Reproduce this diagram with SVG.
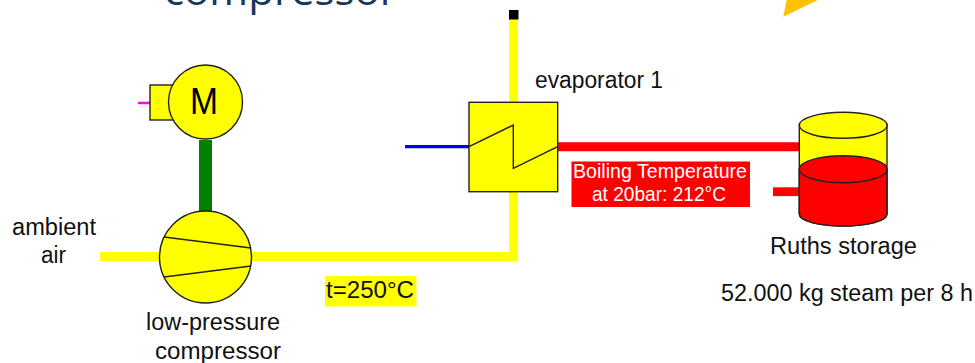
<svg xmlns="http://www.w3.org/2000/svg" width="975" height="363" viewBox="0 0 975 363">
<style>
text{font-family:"Liberation Sans",Arial,sans-serif;font-size:23px;fill:#111}
.eq{fill:#ff0;stroke:#222;stroke-width:1.4}
.ln{fill:none;stroke:#222;stroke-width:1.4}
.red{fill:#f00;stroke:#222;stroke-width:1.4}
</style>
<rect width="975" height="363" fill="#fff"/>
<text x="164" y="4.500" textLength="233" lengthAdjust="spacingAndGlyphs" style="font-family:'Open Sans',sans-serif;font-size:40px;font-weight:400;fill:#17375e">compressor</text>
<polygon points="783.300,16.700 817.700,0 786.700,0" fill="#ffc000"/>
<g id="connectors" fill="none">
<path d="M100 256.500H513.500V19" stroke="#ff0" stroke-width="8.800"/>
<rect x="509" y="10" width="9.500" height="9.500" fill="#000"/>
<path d="M205.500 140V212" stroke="#007f00" stroke-width="13"/>
<path d="M138 103H150" stroke="#f0e" stroke-width="2.500"/>
<path d="M405 146.700H469" stroke="#00f" stroke-width="3.200"/>
<path d="M558 146.800H800" stroke="#f00" stroke-width="9"/>
<path d="M773 191.700H800" stroke="#f00" stroke-width="8.800"/>
</g>
<g id="motor">
<rect class="eq" x="150" y="85" width="30" height="35"/>
<circle class="eq" cx="205.500" cy="102" r="37"/>
<text x="190" y="114" textLength="28" lengthAdjust="spacingAndGlyphs" style="font-size:36px;fill:#000">M</text>
</g>
<g id="compressor">
<circle class="eq" cx="205.500" cy="257" r="46"/>
<path class="ln" d="M164 237L251 248M164 277L251 266"/>
</g>
<g id="evaporator">
<rect class="eq" x="469" y="102.300" width="88.700" height="89.400"/>
<path class="ln" d="M469 146.700L513.300 125V168.300L557.700 146.700"/>
<text x="535" y="88" textLength="128" lengthAdjust="spacingAndGlyphs">evaporator 1</text>
</g>
<g id="storage">
<path class="eq" d="M799.300 125V214C799.300 221 819 226 843.200 226S887 221 887 214V125Z"/>
<path class="red" d="M799.300 169.200V214C799.300 221 819 226 843.200 226S887 221 887 214V169.200Z"/>
<ellipse class="red" cx="843.200" cy="169.200" rx="43.900" ry="13.500"/>
<ellipse class="eq" cx="843.200" cy="125.300" rx="43.900" ry="13"/>
<text x="770" y="254" textLength="147" lengthAdjust="spacingAndGlyphs">Ruths storage</text>
<text x="721" y="301" textLength="252" lengthAdjust="spacingAndGlyphs">52.000 kg steam per 8 h</text>
</g>
<g id="label-boiling">
<rect x="571.500" y="161.500" width="178.500" height="45.500" fill="#f00"/>
<text x="573" y="178" textLength="174" lengthAdjust="spacingAndGlyphs" style="font-size:21px;fill:#fff">Boiling Temperature</text>
<text x="592" y="201" textLength="134" lengthAdjust="spacingAndGlyphs" style="font-size:21px;fill:#fff">at 20bar: 212°C</text>
</g>
<g id="label-temp">
<rect x="325" y="276" width="91.500" height="30.500" fill="#ff0"/>
<text x="326" y="298" textLength="88" lengthAdjust="spacingAndGlyphs">t=250°C</text>
</g>
<g id="label-air">
<text x="12" y="235" textLength="84" lengthAdjust="spacingAndGlyphs">ambient</text>
<text x="41" y="263" textLength="25" lengthAdjust="spacingAndGlyphs">air</text>
</g>
<g id="label-compressor">
<text x="146" y="330" textLength="134" lengthAdjust="spacingAndGlyphs">low-pressure</text>
<text x="155" y="359" textLength="126" lengthAdjust="spacingAndGlyphs">compressor</text>
</g>
</svg>
